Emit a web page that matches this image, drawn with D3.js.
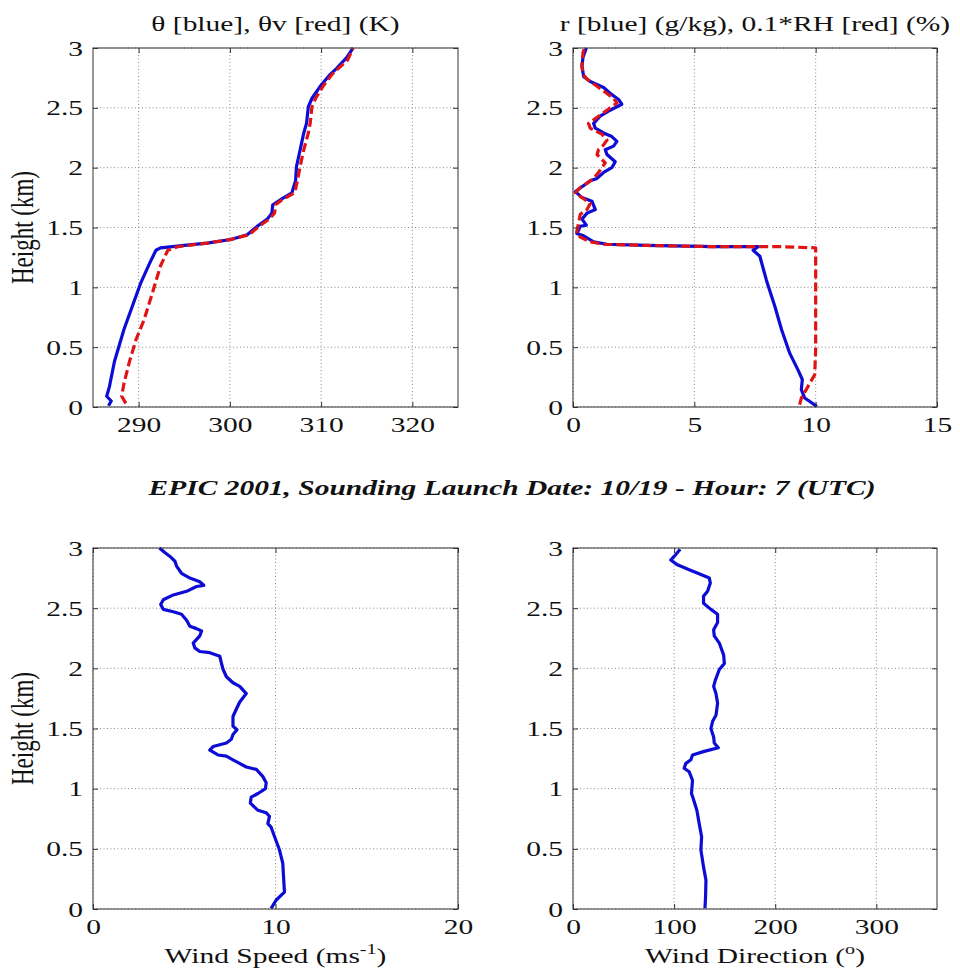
<!DOCTYPE html>
<html>
<head>
<meta charset="utf-8">
<script src="https://cdn.jsdelivr.net/npm/d3@7"></script>
<style>
  body { margin: 0; background: #fff; }
  svg { display: block; }
</style>
</head>
<body>
<svg id="chart" width="960" height="968"></svg>
<script>
// sounding profiles, heights in km
var thetaH = [0.01,0.05,0.09,0.17,0.38,0.65,0.84,1.04,1.2,1.31,1.33,1.35,1.37,1.40,1.44,1.51,1.57,1.62,1.69,1.73,1.79,1.89,2.01,2.15,2.29,2.37,2.51,2.58,2.68,2.78,2.83,2.92,3.0];
var thetaK = [286.7,287.0,286.5,286.8,287.35,288.4,289.3,290.25,291.2,291.9,292.4,295.0,297.5,300.1,301.9,303.0,304.1,304.6,304.7,305.5,306.8,307.2,307.3,307.7,308.1,308.4,308.6,309.0,309.9,311.0,311.7,312.8,313.5];
var thetaVH = [0.03,0.09,0.2,0.38,0.56,0.73,0.95,1.18,1.31,1.34,1.37,1.40,1.44,1.51,1.57,1.62,1.69,1.73,1.79,1.89,2.01,2.15,2.29,2.37,2.51,2.58,2.68,2.78,2.83,2.90,3.0];
var thetaVK = [288.6,288.15,288.4,289.0,289.7,290.6,291.5,292.4,293.2,294.3,297.5,300.1,302.1,303.2,304.3,304.9,305.0,305.7,307.1,307.4,307.7,308.1,308.6,308.8,309.0,309.4,310.2,311.2,311.9,312.9,313.5];

var mixH = [0.005,0.075,0.145,0.23,0.31,0.45,0.65,0.84,1.06,1.26,1.31,1.34,1.34,1.35,1.36,1.38,1.43,1.45,1.51,1.52,1.57,1.62,1.65,1.72,1.75,1.80,1.84,1.89,1.91,1.96,2.0,2.05,2.11,2.15,2.18,2.22,2.26,2.29,2.33,2.37,2.43,2.48,2.53,2.57,2.61,2.67,2.72,2.76,2.85,2.92,3.0];
var mixR = [10.05,9.55,9.41,9.45,9.27,8.93,8.59,8.32,7.97,7.70,7.42,7.63,5.78,3.04,1.40,0.85,0.44,0.16,0.30,0.55,0.37,0.58,0.92,0.78,0.37,0.10,0.37,0.71,0.99,1.26,1.60,1.74,1.40,1.33,1.67,1.81,1.60,1.26,0.92,0.85,1.12,1.53,2.01,1.88,1.60,1.26,0.71,0.44,0.37,0.41,0.55];
var rhH = [0.02,0.075,0.17,0.27,0.48,0.9,1.33,1.34,1.34,1.35,1.36,1.38,1.42,1.45,1.54,1.61,1.65,1.70,1.74,1.79,1.83,1.87,1.91,1.96,2.0,2.04,2.11,2.15,2.19,2.23,2.28,2.33,2.37,2.41,2.48,2.54,2.58,2.62,2.68,2.74,2.78,2.85,2.96,3.0];
var rhTenth = [9.34,9.41,9.68,9.96,10.0,10.0,10.0,8.52,5.78,3.04,1.26,0.71,0.30,0.14,0.23,0.30,0.58,0.71,0.44,0.10,0.27,0.58,0.85,1.05,1.19,1.33,0.99,1.05,1.26,1.40,1.19,0.71,0.64,0.92,1.40,1.81,1.67,1.40,0.99,0.58,0.41,0.37,0.41,0.47];

var wsH = [0.005,0.075,0.14,0.27,0.38,0.49,0.60,0.68,0.71,0.77,0.80,0.82,0.88,0.93,0.96,1.00,1.05,1.10,1.16,1.18,1.24,1.27,1.28,1.32,1.35,1.38,1.41,1.45,1.49,1.52,1.60,1.66,1.72,1.79,1.85,1.88,1.93,1.99,2.04,2.10,2.13,2.14,2.17,2.21,2.27,2.31,2.33,2.35,2.40,2.45,2.47,2.49,2.53,2.57,2.61,2.64,2.68,2.69,2.72,2.75,2.79,2.85,2.89,2.93,2.96,3.0];
var wsSpeed = [9.76,10.04,10.49,10.44,10.4,10.22,9.95,9.76,9.58,9.67,9.49,9.04,8.62,8.67,9.04,9.45,9.49,9.31,8.95,8.40,7.67,7.31,6.85,6.40,6.58,7.31,7.58,7.67,7.89,7.67,7.67,7.85,8.04,8.40,8.04,7.67,7.31,7.13,7.04,6.95,6.40,5.85,5.58,5.49,5.85,5.95,5.67,5.31,5.13,4.85,4.40,3.85,3.71,3.85,4.40,5.13,5.67,6.07,5.85,5.31,4.85,4.58,4.49,4.22,3.95,3.64];

var wdH = [0.005,0.10,0.24,0.35,0.49,0.60,0.71,0.82,0.91,0.96,1.07,1.14,1.17,1.21,1.24,1.28,1.31,1.34,1.38,1.43,1.50,1.56,1.61,1.71,1.79,1.85,1.90,1.99,2.04,2.11,2.21,2.27,2.32,2.38,2.45,2.49,2.54,2.60,2.64,2.71,2.75,2.78,2.82,2.86,2.90,2.93,2.99];
var wdDir = [130.5,131.1,131.5,129.1,126.5,127.2,124.8,122.5,119.2,117.2,118.2,114.9,109.9,111.6,116.6,118.2,129.8,143.7,139.7,139.1,136.4,138.1,141.4,143.0,141.4,139.1,140.7,144.7,149.7,149.0,144.7,139.7,139.1,143.0,143.0,136.4,129.1,129.1,133.1,135.8,134.8,126.5,114.9,103.3,96.7,100.0,106.0];

// tick values
var heightTicks = [0,0.5,1,1.5,2,2.5,3];
var thetaTicks = [290,300,310,320];
var mixTicks = [0,5,10,15];
var speedTicks = [0,10,20];
var dirTicks = [0,100,200,300];

var SX = 1.34; // the picture is stretched sideways
var FS = 22;
var FONT = "'Liberation Serif', 'Times New Roman', serif";
var BLUE = "#0c0cd6", RED = "#e01414";

var svg = d3.select("#chart");

var stretch = function(sel){
    sel.each(function(){
        var w = this.getComputedTextLength();
        d3.select(this).attr("textLength", w*SX).attr("lengthAdjust","spacingAndGlyphs");
    });
};

var label = function(x, y, rot){
    return svg.append("g")
        .attr("transform","translate("+x+","+y+") scale("+SX+",1)"+(rot ? " rotate(-90)" : ""))
        .append("text")
        .attr("text-anchor","middle")
        .attr("font-family",FONT)
        .attr("font-size",FS)
        .attr("fill","#111");
};

var panel = function(p){
    var x = d3.scaleLinear().domain(p.xDomain).range([p.left, p.left+p.w]);
    var y = d3.scaleLinear().domain([0,3]).range([p.top+p.h, p.top]);
    var g = svg.append("g");

    // dotted grid
    g.selectAll("line.gx").data(p.xTicks).enter().append("line")
        .attr("x1",function(d){return x(d);}).attr("x2",function(d){return x(d);})
        .attr("y1",p.top).attr("y2",p.top+p.h)
        .attr("stroke","#8a8a8a").attr("stroke-width",1).attr("stroke-dasharray","1,2.5");
    g.selectAll("line.gy").data(heightTicks).enter().append("line")
        .attr("y1",function(d){return y(d);}).attr("y2",function(d){return y(d);})
        .attr("x1",p.left).attr("x2",p.left+p.w)
        .attr("stroke","#8a8a8a").attr("stroke-width",1).attr("stroke-dasharray","1,2.5");

    // profiles
    p.series.forEach(function(s){
        var pts = s.h.map(function(h,i){ return [s.v[i], h]; });
        g.append("path")
            .datum(pts)
            .attr("fill","none")
            .attr("stroke",s.color)
            .attr("stroke-width",3.2)
            .attr("stroke-linejoin","round")
            .attr("stroke-dasharray",s.dash ? "9,4" : null)
            .attr("d",d3.line().x(function(d){return x(d[0]);}).y(function(d){return y(d[1]);}));
    });

    // axes, ticks pointing inward
    var fmt = d3.format("~g");
    var bx = g.append("g").attr("transform","translate(0,"+(p.top+p.h)+")")
        .call(d3.axisBottom(x).tickValues(p.xTicks).tickSize(-5).tickPadding(9).tickFormat(fmt));
    var ly = g.append("g").attr("transform","translate("+p.left+",0)")
        .call(d3.axisLeft(y).tickValues(heightTicks).tickSize(-5).tickPadding(10).tickFormat(fmt));
    g.append("g").attr("transform","translate(0,"+p.top+")")
        .call(d3.axisTop(x).tickValues(p.xTicks).tickSize(-5).tickFormat(""));
    g.append("g").attr("transform","translate("+(p.left+p.w)+",0)")
        .call(d3.axisRight(y).tickValues(heightTicks).tickSize(-5).tickFormat(""));
    g.selectAll(".domain").remove();
    g.selectAll(".tick line").attr("stroke","#333");
    g.selectAll(".tick text")
        .attr("font-family",FONT).attr("font-size",FS).attr("fill","#111");
    stretch(bx.selectAll(".tick text"));
    stretch(ly.selectAll(".tick text"));

    g.append("rect")
        .attr("x",p.left).attr("y",p.top).attr("width",p.w).attr("height",p.h)
        .attr("fill","none").attr("stroke","#333").attr("stroke-width",1);

    if(p.title){
        label(p.left+p.w/2, p.top-17).text(p.title);
    }
    if(p.xlabel){
        var t = label(p.left+p.w/2, p.top+p.h+54);
        t.append("tspan").text(p.xlabel[0]);
        t.append("tspan").attr("font-size",15).attr("dy",-9).text(p.xlabel[1]);
        t.append("tspan").attr("dy",9).text(p.xlabel[2]);
    }
    if(p.ylabel){
        label(p.left-60, p.top+p.h/2, true).attr("font-size",23).text(p.ylabel);
    }
};

panel({left:93, top:48, w:365, h:359, xDomain:[285,325], xTicks:thetaTicks,
    title:"\u03b8 [blue], \u03b8v [red] (K)", ylabel:"Height (km)",
    series:[{h:thetaH, v:thetaK, color:BLUE}, {h:thetaVH, v:thetaVK, color:RED, dash:true}]});

panel({left:573, top:48, w:364, h:359, xDomain:[0,15], xTicks:mixTicks,
    title:"r [blue] (g/kg), 0.1*RH [red] (%)",
    series:[{h:mixH, v:mixR, color:BLUE}, {h:rhH, v:rhTenth, color:RED, dash:true}]});

panel({left:93, top:548, w:365, h:361, xDomain:[0,20], xTicks:speedTicks,
    xlabel:["Wind Speed (ms","-1",")"], ylabel:"Height (km)",
    series:[{h:wsH, v:wsSpeed, color:BLUE}]});

panel({left:573, top:548, w:364, h:361, xDomain:[0,360], xTicks:dirTicks,
    xlabel:["Wind Direction (","o",")"],
    series:[{h:wdH, v:wdDir, color:BLUE}]});

label(512, 495)
    .attr("font-weight","bold")
    .attr("font-style","italic")
    .text("EPIC 2001, Sounding Launch Date: 10/19 - Hour: 7 (UTC)");
</script>
</body>
</html>
